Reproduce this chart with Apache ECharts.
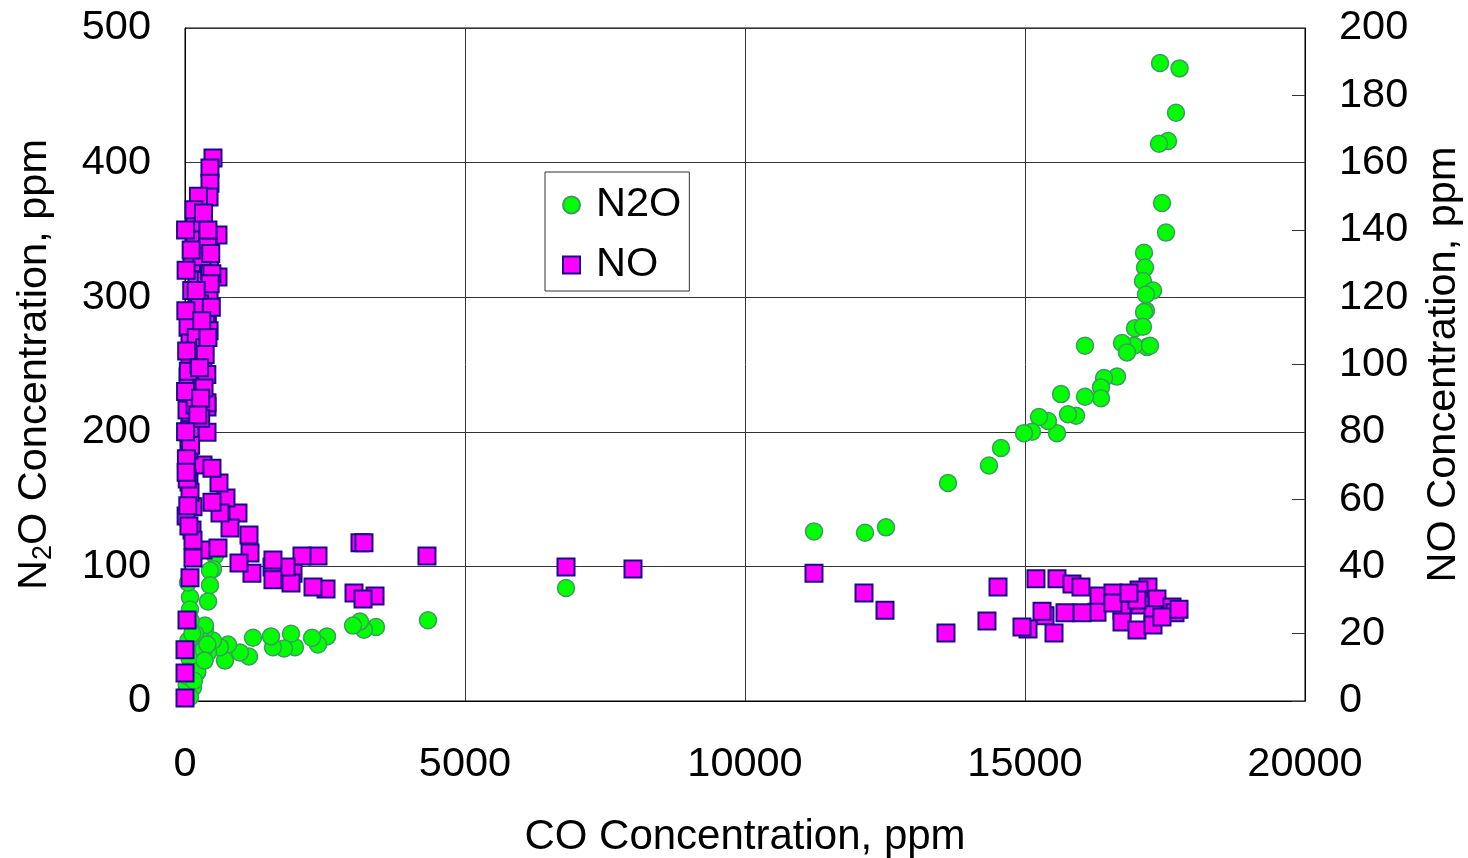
<!DOCTYPE html>
<html>
<head>
<meta charset="utf-8">
<script src="https://cdn.jsdelivr.net/npm/echarts@6/dist/echarts.min.js"></script>
<style>
  html, body { margin: 0; padding: 0; background: #fff; }
  #chart { width: 1468px; height: 858px; }
</style>
</head>
<body>
<div id="chart"></div>
<script>
// N2O (left axis) vs CO
const n2oCO = [
  17411, 17760, 17696, 17554, 17393, 17446, 17518, 17125, 17143, 17107,
  17286, 17160, 17160, 17125, 16964, 17107, 17179, 16946, 17232, 16732,
  16821, 16071, 16643, 16411, 16357, 16357, 16071, 15911, 15768, 15643,
  15571, 15411, 15250, 15125, 14982, 14571, 14357, 13625, 12518, 12143,
  11232, 6804, 4339, 3411, 3196, 3125, 3000, 2536, 2375, 2268,
  1964, 1893, 1768, 1571, 1536, 1214, 1143, 982, 768, 714,
  625, 500, 411, 357, 268, 214, 143, 89,
  536, 500, 446, 446, 411, 89, 54, 89, 268, 357,
  0, 30, 60, 100, 150, 200, 250, 300, 180, 120,
  80, 40, 330, 400, 220, 160, 60, 100, 130, 350
]
const n2oVal = [
  474, 470, 437, 416, 414, 370, 348, 333, 322, 312,
  305, 302, 290, 289, 277, 278, 263, 264, 264, 266,
  259, 264, 241, 240, 233, 225, 226, 212, 213, 228,
  199, 208, 211, 200, 199, 188, 175, 162, 129, 125,
  126, 84, 60, 55, 53, 59, 56, 48, 42, 47,
  40, 50, 39, 40, 48, 47, 33, 36, 42, 30,
  40, 45, 36, 53, 30, 21, 10, 3,
  108, 98, 97, 86, 74, 77, 88, 68, 53, 56,
  5, 12, 18, 25, 28, 35, 40, 45, 50, 40,
  32, 22, 38, 42, 22, 15, 45, 60, 50, 30
]

// NO (right axis) vs CO
const noCO = [
  11232, 12125, 12500, 13589, 14518, 14321, 15196, 15571, 15839, 16000,
  16321, 16571, 17196, 17036, 17357, 17054, 17625, 17679, 17286, 16732,
  16732, 17000, 17286, 17446, 16286, 16018, 15714, 15357, 15304, 15054,
  14946, 15518, 16571, 17000, 16857, 17750,
  8000, 6804, 4321, 3125, 3196, 3393, 3018, 3179, 2518, 2286,
  2375, 2089, 1929, 1893, 1804, 1554, 1571, 1571, 1196, 1161,
  1143, 964, 946, 804, 732, 625, 607, 482, 321, 482,
  321, 589, 143, 125, 71, 71, 71, 393, 89, 393,
  89, 36, 0, 0, 0, 143, 143,
  500, 446, 446, 429, 179, 179, 179, 589, 411, 125,
  214, 589, 214, 232, 54, 89, 321, 89, 321, 54,
  304, 89, 393, 36, 89, 400, 420, 380, 430, 400,
  370, 440, 410, 300, 260, 120, 60, 30, 150, 90,
  200, 250, 20, 350, 280, 40, 100, 180,
  10, 20, 15, 30, 10, 25, 460, 480, 450, 470,
  430, 410, 360, 390, 340, 280, 240, 160, 110, 200,
  330, 300, 260, 230, 50, 70, 20, 10
]
const noVal = [
  38.0, 32.1, 27.0, 20.2, 33.9, 23.8, 36.3, 36.3, 34.8, 33.9,
  31.2, 32.1, 33.9, 33.0, 30.3, 28.5, 27.9, 26.2, 25.6, 27.0,
  23.5, 21.1, 22.6, 25.0, 26.4, 26.2, 26.2, 25.3, 26.7, 21.4,
  22.0, 20.2, 29.1, 30.0, 32.1, 27.3,
  39.2, 39.8, 43.1, 47.0, 47.0, 31.2, 32.1, 30.3, 33.3, 33.9,
  43.1, 43.1, 38.0, 35.1, 39.8, 39.8, 36.0, 41.9, 38.0, 44.0,
  49.3, 41.0, 55.9, 51.4, 60.3, 55.9, 64.8, 59.1, 70.1, 69.2,
  44.9, 45.5, 57.7, 50.8, 65.1, 74.6, 79.9, 79.9, 85.6, 87.4,
  36.6, 24.1, 15.2, 8.3, 0.9, 42.5, 47.8,
  161.4, 158.4, 153.9, 149.8, 145.0, 142.0, 137.0, 138.5, 137.0, 130.2,
  125.1, 126.0, 119.2, 114.1, 111.1, 106.4, 106.4, 102.2, 101.3, 96.3,
  94.5, 90.3, 88.6, 86.5, 80.5, 135, 130, 125, 120, 115,
  112, 128, 140, 132, 118, 122, 98, 70, 92, 62,
  108, 100, 55, 105, 84, 66, 76, 88,
  140, 128, 116, 104, 92, 72, 133, 127, 124, 117,
  110, 108, 103, 97, 93, 90, 150, 146, 134, 122,
  145, 113, 99, 85, 58, 52, 68, 80
]

const n2oData = n2oCO.map((x, i) => [x, n2oVal[i]])
const noData = noCO.map((x, i) => [x, noVal[i]])

const font = 'Liberation Sans, Arial, sans-serif'
const chart = echarts.init(document.getElementById('chart'))

chart.setOption({
  animation: false,
  backgroundColor: '#fff',
  textStyle: { fontFamily: font, color: '#000' },
  grid: {
    left: 185, right: 163, top: 28, bottom: 157,
    outerBoundsMode: 'none',
    containLabel: false,
    show: true, borderColor: '#000', borderWidth: 1
  },
  legend: {
    left: 545, top: 172,
    orient: 'vertical',
    itemWidth: 17, itemHeight: 17, itemGap: 18,
    padding: [12, 8, 5, 17],
    borderColor: '#333', borderWidth: 1,
    textStyle: { fontFamily: font, fontSize: 41.5, color: '#000', padding: [0, 0, 0, 11] },
    data: [{ name: 'N2O', icon: 'circle' }, { name: 'NO', icon: 'rect' }]
  },
  xAxis: {
    type: 'value', min: 0, max: 20000, interval: 5000,
    name: 'CO Concentration, ppm', nameLocation: 'middle', nameGap: 115,
    nameTextStyle: { fontFamily: font, fontSize: 42, color: '#000' },
    axisLine: { lineStyle: { color: '#000', width: 1 } },
    axisTick: { show: false },
    axisLabel: { fontFamily: font, fontSize: 41.5, color: '#000', margin: 43, formatter: (v) => String(v) },
    splitLine: { lineStyle: { color: '#333', width: 1 } }
  },
  yAxis: [
    {
      type: 'value', min: 0, max: 500, interval: 100, position: 'left',
      name: 'N{sub|2}O Concentration, ppm', nameLocation: 'middle', nameGap: 128,
      nameRotate: 90,
      nameTextStyle: {
        fontFamily: font, fontSize: 41.5, color: '#000',
        rich: { sub: { fontFamily: font, fontSize: 27, verticalAlign: 'bottom', padding: [18, 0, 0, 0] } }
      },
      axisLine: { show: true, lineStyle: { color: '#000', width: 1 } },
      axisTick: { show: false },
      axisLabel: { fontFamily: font, fontSize: 41.5, color: '#000', margin: 34 },
      splitLine: { lineStyle: { color: '#333', width: 1 } }
    },
    {
      type: 'value', min: 0, max: 200, interval: 20, position: 'right',
      name: 'NO Concentration, ppm', nameLocation: 'middle', nameGap: 118,
      nameRotate: 90,
      nameTextStyle: { fontFamily: font, fontSize: 41.5, color: '#000' },
      axisLine: { show: true, lineStyle: { color: '#000', width: 1 } },
      axisTick: { show: true, inside: true, length: 13, lineStyle: { color: '#333' } },
      axisLabel: { fontFamily: font, fontSize: 41.5, color: '#000', margin: 34 },
      splitLine: { show: false }
    }
  ],
  series: [
    {
      name: 'N2O', type: 'scatter', yAxisIndex: 0,
      symbol: 'circle', symbolSize: 17,
      data: n2oData,
      itemStyle: { color: '#00ff00', borderColor: '#3c9a60', borderWidth: 1.5, opacity: 1 }
    },
    {
      name: 'NO', type: 'scatter', yAxisIndex: 1,
      symbol: 'rect', symbolSize: 17,
      data: noData,
      itemStyle: { color: '#ff00ff', borderColor: '#1a0a8c', borderWidth: 2, opacity: 1 }
    }
  ]
})
</script>
</body>
</html>
